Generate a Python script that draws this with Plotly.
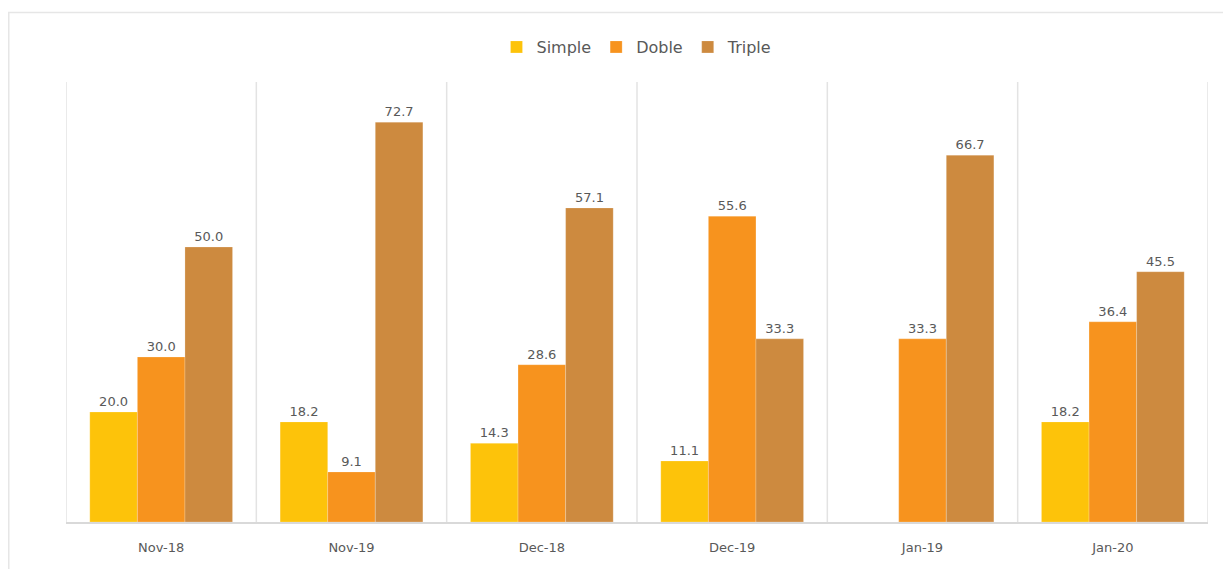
import plotly.graph_objects as go

categories = ["Nov-18", "Nov-19", "Dec-18", "Dec-19", "Jan-19", "Jan-20"]
simple = [20.0, 18.2, 14.3, 11.1, None, 18.2]
doble = [30.0, 9.1, 28.6, 55.6, 33.3, 36.4]
triple = [50.0, 72.7, 57.1, 33.3, 66.7, 45.5]

colors = {"Simple": "#FDC30A", "Doble": "#F7931E", "Triple": "#CD8A3F"}
font_fam = "DejaVu Sans"
gray = "#595959"

fig = go.Figure()
for name, vals in [("Simple", simple), ("Doble", doble), ("Triple", triple)]:
    fig.add_trace(go.Bar(
        x=categories, y=vals, name=name,
        marker=dict(color=colors[name], line=dict(width=0.6, color="rgba(255,255,255,0.35)")),
        texttemplate="%{y:.1f}", textposition="outside", cliponaxis=False,
        textfont=dict(family=font_fam, size=13, color=gray),
    ))

# page body has an 8px margin; figure is sized to fit the window
W, H = 1223, 561
l, r, t, b = 58, 23, 74, 47
pw, ph = W - l - r, H - t - b

shapes = []
for i in range(len(categories) + 1):
    shapes.append(dict(type="line", xref="x", yref="y", x0=i - 0.5, x1=i - 0.5, y0=0, y1=80,
                       line=dict(color="#E3E3E3", width=1.5), layer="below"))
shapes.append(dict(type="rect", xref="paper", yref="paper",
                   x0=(0.75 - l) / pw, x1=(1221.5 - l) / pw,
                   y0=-(H + 10 - t - ph) / ph, y1=1 + (t - 4.5) / ph,
                   line=dict(color="#E6E6E6", width=1.5), layer="below"))

fig.update_layout(
    width=W, height=H,
    margin=dict(l=l, r=r, t=t, b=b),
    paper_bgcolor="white", plot_bgcolor="white",
    barmode="group", bargap=0.25, bargroupgap=0,
    showlegend=True,
    legend=dict(orientation="h", x=0.5, xanchor="center", y=1 + (74 - 39) / ph, yanchor="middle",
                font=dict(family=font_fam, size=16, color=gray), itemwidth=30,
                traceorder="normal"),
    xaxis=dict(showgrid=False, showline=True, linecolor="#D9D9D9", linewidth=2,
               tickfont=dict(family=font_fam, size=13, color=gray), ticks="",
               ticklabelstandoff=12,
               range=[-0.5, len(categories) - 0.5]),
    yaxis=dict(range=[0, 80], visible=False, showgrid=False),
    shapes=shapes,
    font=dict(family=font_fam, color=gray),
)

fig.write_html("out.html")
